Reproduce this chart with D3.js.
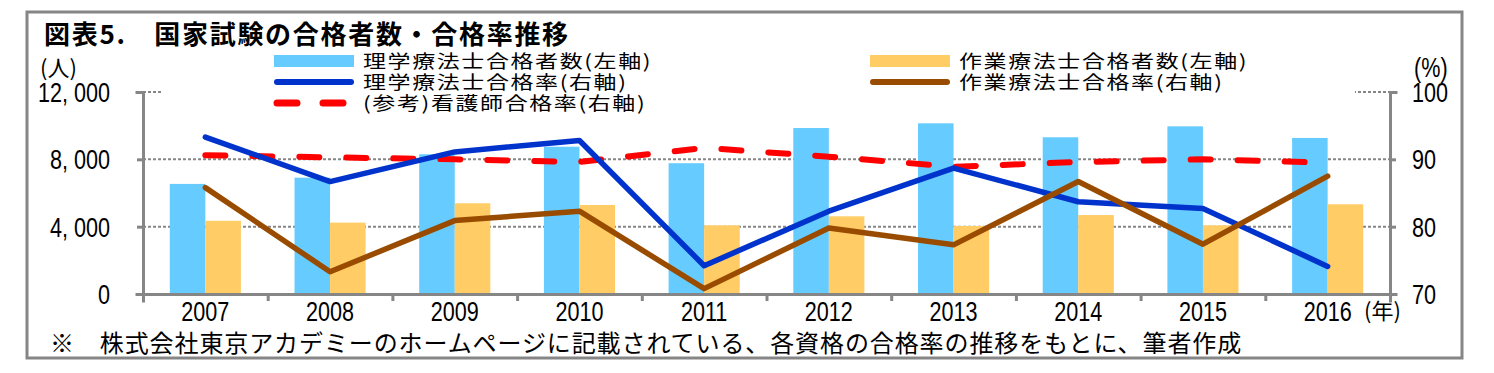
<html>
    <head>
        <title>国家試験の合格者数・合格率推移</title>
        <style type="text/css">
            body{
                padding:0px;
                margin:0px;
                background:white;
            }
            svg{
                width:1494px;
                height:373px;
                display:block;
            }
            .jp{
                font-family:"Noto Sans CJK JP", sans-serif;
                fill:#000;
            }
            .num{
                font-family:"Liberation Sans", Arial, sans-serif;
                font-size:27px;
                fill:#000;
            }
        </style>
        <script src="https://d3js.org/d3.v7.min.js"></script>
        <script type="text/javascript">
            // data
            var years=["2007","2008","2009","2010","2011","2012","2013","2014","2015","2016"];
            var ptCount=[6540,6910,8300,8750,7770,9860,10140,9310,9960,9270];
            var otCount=[4350,4240,5390,5290,4080,4615,4040,4690,4080,5330];
            var ptRate=[93.3,86.7,91.1,92.8,74.2,82.3,88.7,83.7,82.7,74.1];
            var otRate=[85.8,73.3,80.9,82.3,70.8,79.8,77.3,86.7,77.4,87.5];
            var nurseRate=[90.6,90.3,90.0,89.6,91.7,90.4,88.9,89.6,90.0,89.5];
            var leftTicks=[0,4000,8000,12000];
            var leftLabels=["0","4, 000","8, 000","12, 000"];
            var rightTicks=[70,80,90,100];

            var grey="#868686";

            window.onload=function()
            {
                var svg=d3.select("body").append("svg");

                var left=143, right=1390, top=92, bottom=294;

                var x=d3.scaleBand().domain(years).range([left,right]);
                var xEdge=d3.scaleLinear().domain([0,years.length]).range([left,right]);
                var yL=d3.scaleLinear().domain([0,12000]).range([bottom,top]);
                var yR=d3.scaleLinear().domain([70,100]).range([bottom,top]);
                var bw=x.bandwidth()*0.285;
                var cx=function(i){ return x(years[i])+x.bandwidth()/2; };

                // outer frame
                svg.append("rect").attr("x",27).attr("y",12).attr("width",1435).attr("height",346)
                    .attr("fill","white").attr("stroke",grey).attr("stroke-width",3);

                // title
                svg.append("text").attr("class","jp").attr("x",44).attr("y",44)
                    .attr("font-size",26).attr("font-weight","bold").attr("letter-spacing",1.7)
                    .text("図表5.　国家試験の合格者数・合格率推移");

                // gridlines
                svg.selectAll(".grid").data(leftTicks.slice(1)).enter().append("line")
                    .attr("x1",left).attr("x2",right)
                    .attr("y1",function(d){return yL(d);}).attr("y2",function(d){return yL(d);})
                    .attr("stroke",grey).attr("stroke-width",2).attr("stroke-dasharray","3,2");

                // bars
                svg.selectAll(".pt").data(ptCount).enter().append("rect")
                    .attr("x",function(d,i){return cx(i)-bw;}).attr("width",bw)
                    .attr("y",function(d){return yL(d);}).attr("height",function(d){return bottom-yL(d);})
                    .attr("fill","#66CCFF");
                svg.selectAll(".ot").data(otCount).enter().append("rect")
                    .attr("x",function(d,i){return cx(i);}).attr("width",bw)
                    .attr("y",function(d){return yL(d);}).attr("height",function(d){return bottom-yL(d);})
                    .attr("fill","#FFCC66");

                // axes
                var axL=svg.append("g").attr("transform","translate("+left+",0)")
                    .call(d3.axisLeft(yL).tickValues(leftTicks).tickSize(6).tickFormat(""));
                var axR=svg.append("g").attr("transform","translate("+right+",0)")
                    .call(d3.axisRight(yR).tickValues(rightTicks).tickSize(6).tickFormat(""));
                var axB=svg.append("g").attr("transform","translate(0,"+bottom+")")
                    .call(d3.axisBottom(xEdge).tickValues(d3.range(0,years.length+1)).tickSize(7).tickFormat(""));
                [axL,axR,axB].forEach(function(a){
                    a.selectAll("path,line").attr("stroke",grey).attr("stroke-width",3);
                    a.select(".domain").attr("stroke-linecap","square");
                });

                // tick labels (narrow digits)
                svg.selectAll(".ll").data(leftTicks).enter().append("text").attr("class","num")
                    .attr("text-anchor","end")
                    .attr("transform",function(d){return "translate(110,"+(yL(d)+10)+") scale(0.8,1)";})
                    .text(function(d,i){return leftLabels[i];});
                svg.selectAll(".rl").data(rightTicks).enter().append("text").attr("class","num")
                    .attr("transform",function(d){return "translate(1412,"+(yR(d)+10)+") scale(0.8,1)";})
                    .text(function(d){return d;});
                svg.selectAll(".xl").data(years).enter().append("text").attr("class","num")
                    .attr("text-anchor","middle")
                    .attr("transform",function(d,i){return "translate("+cx(i)+",321) scale(0.8,1)";})
                    .text(function(d){return d;});

                svg.append("text").attr("class","jp").attr("x",40).attr("y",76).attr("font-size",22).text("(人)");
                svg.append("text").attr("class","num").attr("transform","translate(1414,77) scale(0.8,1)")
                    .attr("font-size",22).text("(%)");
                svg.append("text").attr("class","jp").attr("x",1364).attr("y",319).attr("font-size",22).text("(年)");

                // lines
                var lineR=d3.line().x(function(d,i){return cx(i);}).y(function(d){return yR(d);});
                svg.append("path").datum(nurseRate).attr("d",lineR).attr("fill","none")
                    .attr("stroke","#FF0000").attr("stroke-width",6).attr("stroke-linecap","round")
                    .attr("stroke-dasharray","20,27");
                svg.append("path").datum(ptRate).attr("d",lineR).attr("fill","none")
                    .attr("stroke","#0033CC").attr("stroke-width",5.5).attr("stroke-linejoin","round").attr("stroke-linecap","round");
                svg.append("path").datum(otRate).attr("d",lineR).attr("fill","none")
                    .attr("stroke","#994C00").attr("stroke-width",5.5).attr("stroke-linejoin","round").attr("stroke-linecap","round");

                // legend
                var lg=svg.append("g");
                lg.append("rect").attr("x",163).attr("y",47).attr("width",1192).attr("height",70).attr("fill","white");
                var items=[
                    {col:0,row:0,kind:"bar",color:"#66CCFF",label:"理学療法士合格者数(左軸)"},
                    {col:0,row:1,kind:"line",color:"#0033CC",label:"理学療法士合格率(右軸)"},
                    {col:0,row:2,kind:"dash",color:"#FF0000",label:"(参考)看護師合格率(右軸)"},
                    {col:1,row:0,kind:"bar",color:"#FFCC66",label:"作業療法士合格者数(左軸)"},
                    {col:1,row:1,kind:"line",color:"#994C00",label:"作業療法士合格率(右軸)"}
                ];
                var colX=[274,870];
                items.forEach(function(it){
                    var sx=colX[it.col], sy=61+it.row*21;
                    if(it.kind=="bar"){
                        lg.append("rect").attr("x",sx).attr("y",sy-6).attr("width",80).attr("height",12).attr("fill",it.color);
                    } else {
                        lg.append("line").attr("x1",sx+3).attr("x2",sx+77).attr("y1",sy).attr("y2",sy)
                            .attr("stroke",it.color).attr("stroke-width",it.kind=="dash"?7:6).attr("stroke-linecap","round")
                            .attr("stroke-dasharray",it.kind=="dash"?"20,26":null);
                    }
                    // squashed a bit vertically, as in the source image
                    lg.append("text").attr("class","jp")
                        .attr("transform","translate("+(sx+89)+","+(sy+7)+") scale(1,0.8)")
                        .attr("font-size",23).attr("letter-spacing",1.6).text(it.label);
                });

                // footnote
                svg.append("text").attr("class","jp").attr("x",50).attr("y",352)
                    .attr("font-size",24).attr("letter-spacing",0.9)
                    .text("※　株式会社東京アカデミーのホームページに記載されている、各資格の合格率の推移をもとに、筆者作成");
            }
        </script>
    </head>
    <body>
    </body>
</html>
